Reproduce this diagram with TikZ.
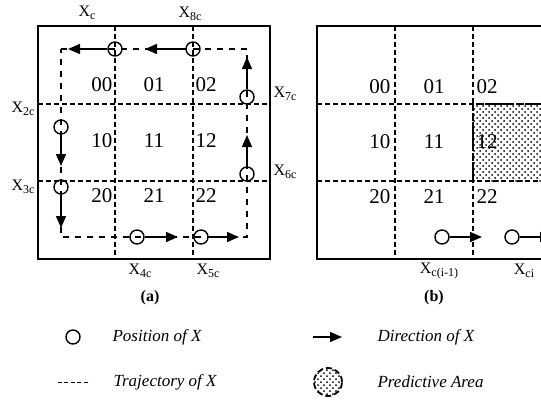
\documentclass[tikz,border=0pt]{standalone}
\usepackage{fontspec}
\setmainfont{Liberation Serif}
\usepackage{tikz}
\usetikzlibrary{arrows.meta,patterns}
\definecolor{traj@black}{RGB}{0,0,0}
\newcommand{\xsub}[1]{X\raisebox{-0.35ex}{\fontsize{6}{6}\selectfont #1}}
\tikzset{
  trajfig/.style={
    x=0.5pt, y=-0.5pt,
    line width=0.6pt,
    every node/.style={inner sep=0pt}
  },
  framebox/.style={draw=traj@black, line width=1pt},  % outer frame of a grid
  cellline/.style={draw=traj@black, line width=0.7pt, dash pattern=on 2.5pt off 1.5pt},
  trajline/.style={draw=traj@black, line width=0.7pt, dash pattern=on 3pt off 3pt},
  posn/.style={                    % position of X
    circle, draw=traj@black, line width=0.7pt,
    minimum size=7pt, inner sep=0pt
  },
  dirarrow/.style={-{Triangle[length=6pt,width=5pt]}, line width=0.7pt},
  cellno/.style={font=\fontsize{10.5}{11}\selectfont},
  xlab/.style={font=\fontsize{8}{9}\selectfont},
  subcap/.style={font=\fontsize{8}{9}\selectfont\bfseries},
  legtext/.style={font=\fontsize{8.5}{9}\selectfont\itshape, anchor=west},
  predarea/.style={pattern=crosshatch dots, pattern color=traj@black}
}

\begin{document}
\begin{tikzpicture}[trajfig]
\useasboundingbox (0,0) rectangle (541,403);
\clip (0,0) rectangle (541,403);

% ---------- (a) trajectory of X ----------
\draw[framebox] (38,26) rectangle (270,259);
\draw[cellline] (115,26) -- (115,259);
\draw[cellline] (193,26) -- (193,259);
\draw[cellline] (38,104) -- (270,104);
\draw[cellline] (38,181) -- (270,181);

% cell numbers
\node[cellno, anchor=east] (a00) at (113,85) {00};
\node[cellno]              (a01) at (154,85) {01};
\node[cellno, anchor=west] (a02) at (195,85) {02};
\node[cellno, anchor=east] (a10) at (113,141) {10};
\node[cellno]              (a11) at (154,141) {11};
\node[cellno, anchor=west] (a12) at (195,141) {12};
\node[cellno, anchor=east] (a20) at (113,196) {20};
\node[cellno]              (a21) at (154,196) {21};
\node[cellno, anchor=west] (a22) at (195,196) {22};

% dashed trajectory
\coordinate (tl) at (61,49);
\coordinate (tr) at (247,49);
\coordinate (br) at (247,237);
\coordinate (bl) at (61,237);
\draw[trajline] (tl) -- (tr) -- (br) -- (bl) -- cycle;

% positions of X along the trajectory
\node[posn] (p1) at (115,49) {};
\node[posn] (p2) at (193,49) {};
\node[posn] (p3) at (247,97) {};
\node[posn] (p4) at (247,174) {};
\node[posn] (p5) at (61,127) {};
\node[posn] (p6) at (61,187) {};
\node[posn] (p7) at (137,237) {};
\node[posn] (p8) at (201,237) {};

\coordinate (d1) at (68,49);
\coordinate (d2) at (145,49);
\coordinate (d3) at (247,57);
\coordinate (d4) at (247,135);
\coordinate (d5) at (61,166);
\coordinate (d6) at (61,228);
\coordinate (d7) at (178,237);
\coordinate (d8) at (239,237);

\draw[dirarrow] (p1) -- (d1);
\draw[dirarrow] (p2) -- (d2);
\draw[dirarrow] (p3) -- (d3);
\draw[dirarrow] (p4) -- (d4);
\draw[dirarrow] (p5) -- (d5);
\draw[dirarrow] (p6) -- (d6);
\draw[dirarrow] (p7) -- (d7);
\draw[dirarrow] (p8) -- (d8);

% boundary labels
\node[xlab] (xc)  at (87,13) {\xsub{c}};
\node[xlab] (x8c) at (190,14) {\xsub{8c}};
\node[xlab, anchor=west] (x7c) at (273,94) {\xsub{7c}};
\node[xlab, anchor=west] (x6c) at (273,172) {\xsub{6c}};
\node[xlab, anchor=east] (x2c) at (35,109) {\xsub{2c}};
\node[xlab, anchor=east] (x3c) at (35,187) {\xsub{3c}};
\node[xlab] (x4c) at (140,271) {\xsub{4c}};
\node[xlab] (x5c) at (208,271) {\xsub{5c}};

\node[subcap] (capa) at (150,298) {(a)};

% ---------- (b) predictive area ----------
\fill[predarea] (473,104) rectangle (551,181);
\draw[framebox] (317,26) rectangle (551,259);
\draw[cellline] (395,26) -- (395,259);
\draw[cellline] (473,26) -- (473,259);
\draw[cellline] (317,104) -- (551,104);
\draw[cellline] (317,181) -- (551,181);
\draw[line width=1pt, dash pattern=on 4pt off 1pt] (473,181) -- (473,104) -- (551,104);

\node[cellno, anchor=east] (b00) at (391,87) {00};
\node[cellno]              (b01) at (434,87) {01};
\node[cellno, anchor=west] (b02) at (476,87) {02};
\node[cellno, anchor=east] (b10) at (391,142) {10};
\node[cellno]              (b11) at (434,142) {11};
\node[cellno, anchor=west] (b12) at (476,142) {12};
\node[cellno, anchor=east] (b20) at (391,197) {20};
\node[cellno]              (b21) at (434,197) {21};
\node[cellno, anchor=west] (b22) at (476,197) {22};

\node[posn] (q1) at (442,237) {};
\node[posn] (q2) at (512,237) {};
\coordinate (e1) at (482,237);
\coordinate (e2) at (552,237);
\draw[dirarrow] (q1) -- (e1);
\draw[dirarrow] (q2) -- (e2);

\node[xlab] (xci1) at (439,271) {\xsub{c(i-1)}};
\node[xlab] (xci)  at (524,271) {\xsub{ci}};

\node[subcap] (capb) at (434,298) {(b)};

% ---------- legend ----------
\node[posn] (lgpos) at (73,337) {};
\node[legtext] (lgpost) at (112,337) {Position of X};

\coordinate (lgdira) at (313,337);
\coordinate (lgdirb) at (342,337);
\draw[dirarrow] (lgdira) -- (lgdirb);
\node[legtext] (lgdirt) at (377,337) {Direction of X};

\coordinate (lgtra) at (58,382);
\coordinate (lgtrb) at (90,382);
\draw[line width=0.5pt, dash pattern=on 2pt off 1.2pt] (lgtra) -- (lgtrb);
\node[legtext] (lgtrt) at (113,382) {Trajectory of X};

\node[circle, minimum size=14pt, predarea, draw=traj@black, line width=0.9pt,
  dash pattern=on 3pt off 1.5pt] (lgpred) at (328,382) {};
\node[legtext] (lgpredt) at (377,382) {Predictive Area};

\end{tikzpicture}
\end{document}
